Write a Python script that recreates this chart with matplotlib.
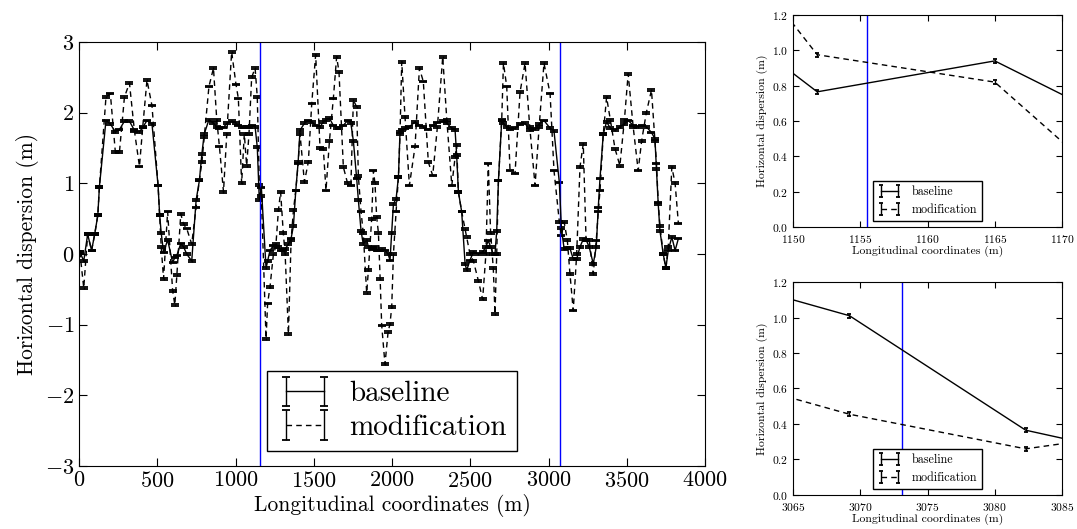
import numpy as np
import matplotlib
matplotlib.use('Agg')
import matplotlib.pyplot as plt

plt.rcParams['font.family'] = 'serif'
plt.rcParams['font.serif'] = ['cmr10']
plt.rcParams['mathtext.fontset'] = 'cm'
plt.rcParams['axes.formatter.use_mathtext'] = True
plt.rcParams['axes.unicode_minus'] = True
plt.rcParams['lines.dashed_pattern'] = [4, 3]

# longitudinal positions (m) and dispersion (m)
s_pos = [5, 30, 55, 80, 100, 120, 130, 172, 200, 232, 258, 290, 322, 354, 386, 407, 434, 466,
         505, 515, 525, 540, 566, 598, 612, 625, 650, 668, 688, 720,
         748, 769, 785, 800, 830, 859, 880, 897, 923, 944, 975, 1003, 1018, 1039, 1056, 1071,
         1086, 1103, 1125, 1139, 1151.8, 1165, 1195,
         1205, 1220, 1242, 1257, 1274, 1288, 1305, 1317, 1338, 1355, 1370, 1385, 1400, 1412,
         1440, 1465, 1487, 1512, 1540, 1561, 1578, 1600, 1625, 1646, 1661, 1689, 1716, 1737,
         1753, 1774, 1785, 1802, 1816,
         1838, 1849, 1870, 1881, 1891, 1902, 1913, 1924, 1934, 1955, 1975, 1987, 1998, 2009,
         2026, 2041, 2051, 2062, 2083, 2111, 2147, 2175, 2200, 2232, 2260, 2290, 2324, 2350,
         2382, 2403, 2413, 2424, 2445, 2467, 2477,
         2498, 2520, 2552, 2579, 2600, 2615, 2630, 2647, 2658, 2669, 2680, 2701, 2712, 2733,
         2754, 2786, 2818, 2850, 2880, 2914, 2940, 2971, 3010, 3035, 3069.2, 3082.3, 3100,
         3120, 3137, 3158, 3180, 3201, 3222, 3240, 3260, 3286, 3305, 3318, 3329, 3350, 3371,
         3395, 3425, 3456, 3485, 3509, 3541, 3573, 3595, 3625, 3658, 3680, 3690, 3701, 3712,
         3733, 3750, 3765, 3788, 3809, 3830]

base_disp = [0.03, -0.1, 0.28, 0.05, 0.28, 0.55, 0.95, 1.89, 1.84, 1.73, 1.76, 1.88, 1.88, 1.75, 1.73, 1.79, 1.89, 1.84,
             0.97, 0.55, 0.3, 0.02, 0.2, -0.12, -0.05, -0.02, 0.15, 0.1, 0.0, -0.1,
             0.76, 1.04, 1.42, 1.7, 1.9, 1.85, 1.8, 1.78, 1.79, 1.85, 1.88, 1.85, 1.82, 1.8, 1.79, 1.8,
             1.8, 1.82, 1.8, 1.51, 0.765, 0.94, -0.2,
             -0.1, 0.05, 0.12, 0.14, 0.1, 0.05, 0.06, 0.07, 0.14, 0.22, 0.4, 0.9, 1.3, 1.75,
             1.85, 1.89, 1.87, 1.82, 1.8, 1.87, 1.9, 1.92, 1.82, 1.78, 1.78, 1.82, 1.89, 1.85,
             1.6, 1.07, 0.76, 0.33, 0.14,
             0.2, 0.1, 0.07, 0.08, 0.1, 0.05, 0.05, 0.05, 0.07, 0.05, 0.0, -0.09, 0.3, 0.71,
             0.78, 1.09, 1.73, 1.75, 1.78, 1.8, 1.87, 1.82, 1.8, 1.76, 1.82, 1.86, 1.88, 1.85,
             1.78, 1.75, 1.4, 0.88, 0.6, -0.14, -0.23,
             -0.09, 0.03, 0.0, 0.03, 0.1, 0.19, 0.1, 0.0, 0.0, 0.33, 1.04, 1.89, 1.85, 1.8,
             1.77, 1.78, 1.84, 1.85, 1.75, 1.77, 1.84, 1.89, 1.78, 1.74, 1.01, 0.365, 0.07,
             0.08, 0.08, -0.07, -0.07, 0.1, 0.21, 0.2, 0.1, -0.14, 0.1, 0.66, 1.07, 1.7, 1.87,
             1.78, 1.75, 1.8, 1.84, 1.89, 1.82, 1.8, 1.82, 1.8, 1.72, 1.63, 1.2, 0.71, 0.33,
             0.0, -0.2, 0.05, 0.24, 0.05, 0.22]

mod_disp = [0.03, -0.48, 0.28, 0.05, 0.28, 0.55, 0.95, 2.22, 2.27, 1.44, 1.44, 2.22, 2.42, 1.74, 1.24, 1.8, 2.46, 2.1,
            0.97, 0.55, 0.1, -0.35, 0.6, -0.52, -0.72, -0.3, 0.57, 0.42, 0.36, 0.14,
            0.66, 1.05, 1.3, 1.66, 2.37, 2.63, 1.9, 1.52, 0.88, 1.7, 2.86, 2.4, 2.2, 1.0, 1.7, 1.25,
            1.7, 2.5, 2.63, 2.22, 0.975, 0.82, -1.2,
            -0.7, -0.47, 0.0, 0.1, 0.62, 0.88, 0.3, 0.0, -1.13, 0.2, 0.62, 0.9, 1.28, 1.7,
            1.02, 1.3, 2.13, 2.82, 1.5, 1.49, 0.9, 1.6, 2.2, 2.79, 2.58, 1.23, 1.0, 0.97,
            2.18, 2.08, 1.1, 0.6, 0.3,
            -0.55, -0.23, 0.5, 1.18, 1.0, 0.52, 0.3, -0.35, -1.01, -1.56, -1.1, -0.99, -0.75, 0.0,
            0.6, 1.09, 1.7, 2.72, 1.94, 0.97, 1.52, 2.63, 2.44, 1.3, 1.11, 1.8, 2.79, 1.9,
            0.97, 1.37, 1.54, 0.88, 0.6, 0.35, 0.24,
            0.0, -0.1, -0.38, -0.64, 0.0, 1.28, 0.3, -0.2, -0.85, 0.0, 1.04, 1.9, 2.7, 2.37,
            1.18, 1.14, 2.29, 2.7, 1.8, 0.97, 1.8, 2.7, 2.27, 1.18, 0.455, 0.26, 0.45,
            0.2, -0.28, -0.8, 0.0, 1.23, 1.56, 0.19, 0.2, -0.28, 0.19, 0.6, 0.9, 1.7, 2.22,
            1.9, 1.49, 1.25, 1.9, 2.55, 1.8, 1.18, 1.6, 2.0, 2.32, 1.6, 1.28, 0.73, 0.4,
            0.0, -0.2, 0.1, 1.23, 1.0, 0.43]

disp_err = 0.012
marker_pos = [1155.5, 3073.1]


def draw(ax, fs_legend, capsize, legend_kw):
    ax.errorbar(s_pos, base_disp, yerr=disp_err, color='k', ls='-', lw=1,
                capsize=capsize, capthick=1.3, label='baseline')
    ax.errorbar(s_pos, mod_disp, yerr=disp_err, color='k', ls='--', lw=1,
                capsize=capsize, capthick=1.3, label='modification')
    leg = ax.legend(loc='lower center', fontsize=fs_legend, fancybox=False,
                    framealpha=1, edgecolor='k', numpoints=2, **legend_kw)
    leg.get_frame().set_linewidth(1)
    ax.tick_params(direction='in', top=True, right=True)


fig = plt.figure(figsize=(10.77, 5.29), dpi=100)

ax = fig.add_axes([0.0734, 0.1191, 0.5812, 0.8015])
draw(ax, 21, 3, dict(handlelength=1.9, handletextpad=0.55, borderpad=0.35, labelspacing=0.25))
for p in marker_pos:
    ax.axvline(p, color='b', lw=1)
ax.set_xlim(0, 4000)
ax.set_ylim(-3, 3)
ax.set_xticks(np.arange(0, 4001, 500))
ax.set_yticks(np.arange(-3, 4, 1))
ax.tick_params(labelsize=16, length=6)
ax.set_xlabel('Longitudinal coordinates (m)', fontsize=15.5, labelpad=2)
ax.set_ylabel('Horizontal dispersion (m)', fontsize=15.5, labelpad=4)

insets = [([0.7363, 0.5709, 0.2498, 0.4008], 1150, 1170, marker_pos[0]),
          ([0.7363, 0.0643, 0.2498, 0.4026], 3065, 3085, marker_pos[1])]
for rect, x0, x1, p in insets:
    a = fig.add_axes(rect)
    draw(a, 8.7, 1.5, dict(handlelength=2.0))
    a.axvline(p, color='b', lw=1)
    a.set_xlim(x0, x1)
    a.set_ylim(0, 1.2)
    a.set_xticks(np.arange(x0, x1 + 1, 5))
    a.set_yticks(np.arange(0, 1.21, 0.2))
    a.yaxis.set_major_formatter(matplotlib.ticker.FormatStrFormatter('$%.1f$'))
    a.tick_params(labelsize=8.3, length=4)
    a.tick_params(axis='x', pad=4)
    a.set_xlabel('Longitudinal coordinates (m)', fontsize=8.5, labelpad=1)
    a.set_ylabel('Horizontal dispersion (m)', fontsize=8.5, labelpad=3)

fig.savefig('out.png', dpi=100)
